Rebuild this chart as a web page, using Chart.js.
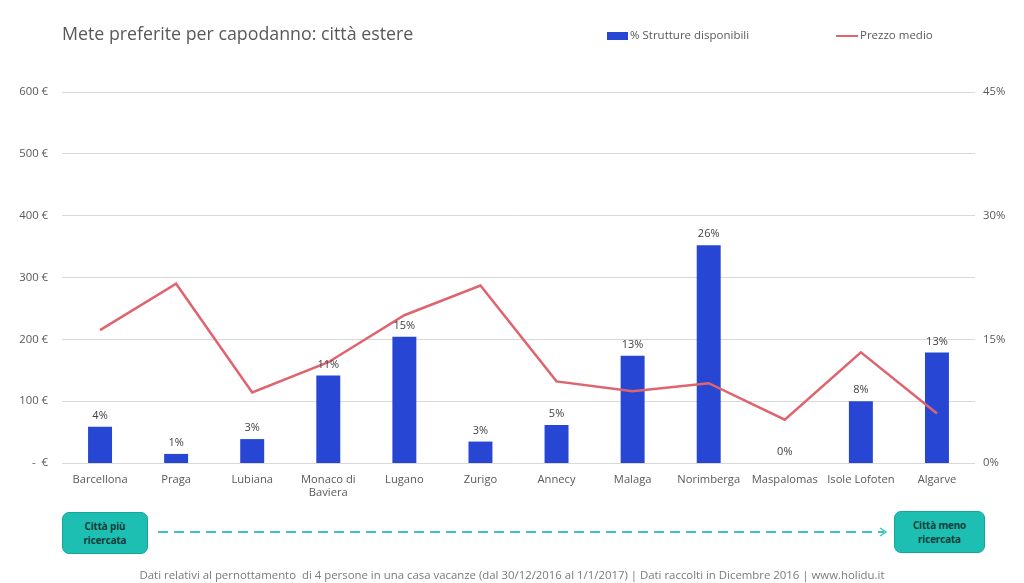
<!DOCTYPE html>
<html><head><meta charset="utf-8">
<script src="https://cdn.jsdelivr.net/npm/chart.js@4"></script>
<style>
html,body{margin:0;padding:0;background:#fff;}
#wrap{position:relative;width:1024px;height:583px;overflow:hidden;font-family:"Open Sans","DejaVu Sans",sans-serif;}
#c{position:absolute;left:0;top:0;}
#title{position:absolute;left:62px;top:21px;font-size:17.8px;color:#595959;line-height:24px;white-space:nowrap;}
.leg{position:absolute;top:27px;font-size:11.5px;color:#595959;line-height:16px;white-space:nowrap;}
.sw{display:inline-block;vertical-align:middle;margin-right:2px;}
.box{position:absolute;background:#1cbfb1;border:1px solid #14a597;border-radius:7px;color:#173c3a;font-weight:bold;font-size:10px;line-height:14px;text-align:center;display:flex;align-items:center;justify-content:center;font-family:"Liberation Sans Narrow","Open Sans",sans-serif;letter-spacing:-0.2px;}
#foot{position:absolute;left:0;width:1024px;top:567px;text-align:center;font-size:11.4px;color:#7a7a7a;white-space:nowrap;}
#arrow{position:absolute;left:0;top:520px;}
</style></head>
<body><div id="wrap">
<canvas id="c" width="1024" height="583"></canvas>
<div id="title">Mete preferite per capodanno: città estere</div>
<div class="leg" style="left:607px"><span class="sw" style="width:21px;height:8px;background:#2746d4"></span>% Strutture disponibili</div>
<div class="leg" style="left:836px"><span class="sw" style="width:22px;height:2px;background:#e0646e"></span>Prezzo medio</div>
<svg id="arrow" width="1024" height="24">
<line x1="158" y1="12" x2="884" y2="12" stroke="#3cc4bb" stroke-width="2" stroke-dasharray="10 6"/>
<polyline points="880,8 886,12 880,16" fill="none" stroke="#3cc4bb" stroke-width="1.5"/>
</svg>
<div class="box" style="left:62px;top:512px;width:84px;height:40px;">Città più<br>ricercata</div>
<div class="box" style="left:894px;top:511px;width:89px;height:40px;">Città meno<br>ricercata</div>
<div id="foot">Dati relativi al pernottamento&nbsp; di 4 persone in una casa vacanze (dal 30/12/2016 al 1/1/2017) | Dati raccolti in Dicembre 2016 | www.holidu.it</div>
</div>
<script>
const categories = ['Barcellona','Praga','Lubiana',['Monaco di','Baviera'],'Lugano','Zurigo','Annecy','Malaga','Norimberga','Maspalomas','Isole Lofoten','Algarve'];
const strutturePct = [4.4,1.1,2.9,10.6,15.3,2.6,4.6,13.0,26.4,0,7.5,13.4];
const prezzoMedio = [215,290,114,163,239,287,132,116,129,70,179,80];
const leftTickValues = [0,100,200,300,400,500,600];
const rightTickValues = [0,15,30,45];

const tickFont = {family:'"Open Sans", sans-serif', size:11.3};

const barLabels = {
  id:'barLabels',
  afterDatasetsDraw(chart){
    const ctx = chart.ctx;
    const meta = chart.getDatasetMeta(1);
    ctx.save();
    ctx.font = '11px "Open Sans", sans-serif';
    ctx.fillStyle = '#404040';
    ctx.textAlign = 'center';
    ctx.textBaseline = 'alphabetic';
    meta.data.forEach((el,i)=>{
      const v = chart.data.datasets[1].data[i];
      ctx.fillText(Math.round(v)+'%', el.x, el.y - 8);
    });
    ctx.restore();
  }
};

new Chart(document.getElementById('c'), {
  data:{
    labels: categories,
    datasets:[
      {type:'line', label:'Prezzo medio', data: prezzoMedio, yAxisID:'y', borderColor:'#e0646e', borderWidth:2.5, pointRadius:0, tension:0, order:0},
      {type:'bar', label:'% Strutture disponibili', data: strutturePct, yAxisID:'y1', backgroundColor:'#2746d4', barPercentage:0.315, categoryPercentage:1, order:1}
    ]
  },
  options:{
    responsive:false, animation:false,
    layout:{padding:{top:92,left:0,right:0,bottom:0}},
    plugins:{legend:{display:false}, tooltip:{enabled:false}, title:{display:false}},
    scales:{
      x:{
        grid:{display:false}, border:{display:false},
        ticks:{color:'#595959', font:{family:'"Open Sans", sans-serif', size:11.2}, padding:2, maxRotation:0, autoSkip:false},
        afterFit(s){ s.height = 120; }
      },
      y:{
        position:'left', min:0, max:600,
        afterBuildTicks(s){ s.ticks = leftTickValues.map(v=>({value:v})); },
        ticks:{color:'#595959', font:tickFont, padding:14,
          callback:(v)=> v===0 ? '   -  €' : v+' €'},
        grid:{color:'#d9d9d9', drawTicks:false, lineWidth:1},
        border:{display:false},
        afterFit(s){ s.width = 62; }
      },
      y1:{
        position:'right', min:0, max:45,
        afterBuildTicks(s){ s.ticks = rightTickValues.map(v=>({value:v})); },
        ticks:{color:'#595959', font:tickFont, padding:8,
          callback:(v)=> v+'%'},
        grid:{display:false, drawTicks:false},
        border:{display:false},
        afterFit(s){ s.width = 49; }
      }
    }
  },
  plugins:[barLabels]
});
</script>
</body></html>
